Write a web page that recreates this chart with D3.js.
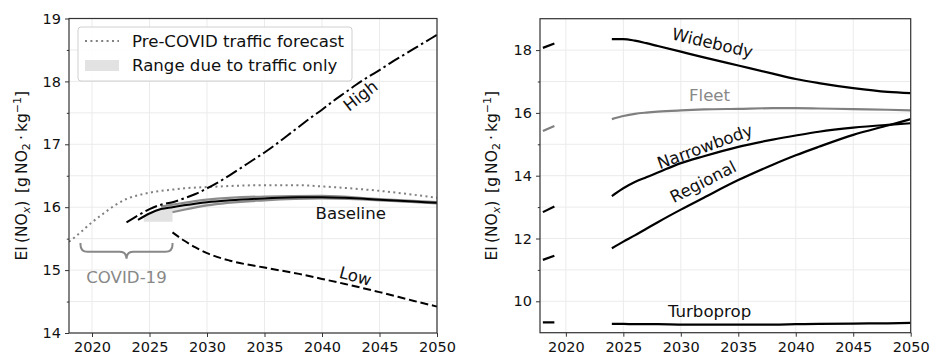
<!DOCTYPE html>
<html><head><meta charset="utf-8">
<script src="https://cdn.jsdelivr.net/npm/d3@7"></script>
<style>
body{margin:0;background:#fff;}
svg{display:block;font-family:"DejaVu Sans",sans-serif;}
</style></head>
<body><svg id="chart" width="934" height="359"></svg>
<script>
// ---------- Left panel data ----------
const preCovidYears  = [2018,2019,2020,2021,2022,2023,2024,2025,2026,2027,2028,2030,2035,2038,2040,2045,2050];
const preCovidValues = [15.45,15.6,15.76,15.9,16.03,16.13,16.19,16.23,16.26,16.28,16.3,16.32,16.35,16.35,16.33,16.26,16.15];
const highYears  = [2023,2024,2025,2026,2027,2028,2029,2030,2031,2032,2033,2034,2035,2036,2037,2038,2039,2040,2041,2042,2043,2044,2045,2046,2047,2048,2049,2050];
const highValues = [15.76,15.87,15.97,16.04,16.08,16.14,16.21,16.3,16.4,16.51,16.63,16.75,16.87,17.0,17.14,17.28,17.42,17.55,17.69,17.82,17.95,18.07,18.18,18.3,18.41,18.52,18.63,18.74];
const baselineYears  = [2024,2025,2026,2027,2028,2030,2032,2035,2038,2040,2042,2045,2048,2050];
const baselineValues = [15.8,15.9,15.97,16.0,16.03,16.08,16.11,16.14,16.16,16.16,16.15,16.12,16.09,16.07];
const lowYears  = [2027,2028,2029,2030,2032,2035,2038,2040,2042,2045,2048,2050];
const lowValues = [15.6,15.47,15.36,15.27,15.15,15.04,14.94,14.86,14.78,14.65,14.51,14.42];
const rangeYears = [2024.5,2025,2026,2027,2027,2028,2030,2035,2040,2045,2050];
const rangeLow   = [15.77,15.77,15.77,15.77,15.92,15.96,16.03,16.11,16.14,16.11,16.06];
const rangeHigh  = [15.86,15.91,16.0,16.04,16.04,16.07,16.12,16.17,16.18,16.13,16.08];
const trafficUpperYears  = [2026,2027,2028,2030,2035,2040,2045,2050];
const trafficUpperValues = [16.01,16.04,16.07,16.12,16.17,16.18,16.13,16.08];
const trafficLowerYears  = [2027,2028,2030,2035,2040,2045,2050];
const trafficLowerValues = [15.92,15.96,16.03,16.11,16.14,16.11,16.06];
const leftYTicks = [14,15,16,17,18,19];
const leftYMinor = [14.5,15.5,16.5,17.5,18.5];
const xTicks = [2020,2025,2030,2035,2040,2045,2050];
const covidSpan = [2019, 2027];
const covidBraceLevels = [15.43, 15.29, 15.18];  // top of ends, bar, tip
const legendLabels = ["Pre-COVID traffic forecast", "Range due to traffic only"];

// ---------- Right panel data ----------
const typeNames = ["Widebody","Fleet","Narrowbody","Regional","Turboprop"];
const histYears = [2018, 2019];
const histWidebody   = [18.07, 18.21];
const histFleet      = [15.42, 15.58];
const histNarrowbody = [12.84, 13.02];
const histRegional   = [11.32, 11.45];
const histTurboprop  = [9.33, 9.33];
const forecastYears = [2024,2025,2026,2027,2028,2030,2032,2035,2038,2040,2042,2045,2048,2050];
const fcWidebody   = [18.35,18.35,18.3,18.22,18.13,17.95,17.77,17.51,17.25,17.08,16.95,16.79,16.67,16.63];
const fcFleet      = [15.8,15.9,15.97,16.01,16.04,16.08,16.11,16.13,16.15,16.15,16.14,16.12,16.1,16.08];
const fcNarrowbody = [13.35,13.6,13.8,13.95,14.1,14.4,14.62,14.92,15.15,15.28,15.4,15.53,15.62,15.67];
const fcRegional   = [11.69,11.9,12.1,12.31,12.52,12.92,13.3,13.86,14.35,14.65,14.92,15.3,15.6,15.8];
const fcTurboprop  = [9.28,9.28,9.27,9.27,9.27,9.26,9.26,9.26,9.26,9.27,9.28,9.29,9.3,9.31];
const rightYTicks = [10,12,14,16,18];
const rightYMinor = [9,11,13,15,17,19];

// ---------- Setup ----------
const svg = d3.select("#chart");
const FONT_TICK = 14.5, FONT_TXT = 16.6;
const axisCol = "#333", gridCol = "#ebebeb";

function zip(xs, ys){ return xs.map((x,i)=>[x, ys[i]]); }

function panel(opt){
  const g = svg.append("g");
  const x = d3.scaleLinear().domain(opt.xDomain).range([opt.left, opt.right]);
  const y = d3.scaleLinear().domain(opt.yDomain).range([opt.bottom, opt.top]);
  const gg = g.append("g");
  gg.selectAll(".gx").data(xTicks).join("line")
    .attr("x1",d=>x(d)).attr("x2",d=>x(d)).attr("y1",opt.top).attr("y2",opt.bottom)
    .attr("stroke",gridCol).attr("stroke-width",1);
  gg.selectAll(".gy").data(opt.yTicks.concat(opt.yMinor)).join("line")
    .attr("x1",opt.left).attr("x2",opt.right).attr("y1",d=>y(d)).attr("y2",d=>y(d))
    .attr("stroke",gridCol).attr("stroke-width",1);
  const clipId = "clip"+opt.id;
  svg.append("clipPath").attr("id",clipId).append("rect")
    .attr("x",opt.left).attr("y",opt.top).attr("width",opt.right-opt.left).attr("height",opt.bottom-opt.top);
  const plot = g.append("g").attr("clip-path",`url(#${clipId})`);
  return {g, x, y, plot, opt};
}

function drawAxes(p){
  const {g, x, y, opt} = p;
  const xa = g.append("g").attr("transform",`translate(0,${opt.bottom})`)
    .call(d3.axisBottom(x).tickValues(xTicks).tickFormat(d3.format("d")).tickSize(4).tickPadding(5));
  const ya = g.append("g").attr("transform",`translate(${opt.left},0)`)
    .call(d3.axisLeft(y).tickValues(opt.yTicks).tickFormat(d3.format("d")).tickSize(4).tickPadding(4));
  const ym = g.append("g").attr("transform",`translate(${opt.left},0)`)
    .call(d3.axisLeft(y).tickValues(opt.yMinor.filter(v=>v>opt.yDomain[0]&&v<opt.yDomain[1])).tickFormat("").tickSize(2.2));
  [xa,ya,ym].forEach(a=>{
    a.select(".domain").remove();
    a.selectAll("line").attr("stroke",axisCol).attr("stroke-width",1);
    a.selectAll("text").attr("fill","#111").attr("font-size",FONT_TICK).attr("font-family","DejaVu Sans");
  });
  g.append("rect").attr("x",opt.left).attr("y",opt.top)
    .attr("width",opt.right-opt.left).attr("height",opt.bottom-opt.top)
    .attr("fill","none").attr("stroke",axisCol).attr("stroke-width",1.2);
  const t = g.append("text").attr("font-size",15.5).attr("fill","#111")
    .attr("text-anchor","middle")
    .attr("transform",`translate(${opt.labelX},${(opt.top+opt.bottom)/2}) rotate(-90)`);
  t.append("tspan").text("EI\u2009(NO");
  t.append("tspan").attr("font-size",11).attr("font-style","italic").attr("dy",3).text("x");
  t.append("tspan").attr("dy",-3).text(")\u2002[g\u2009NO");
  t.append("tspan").attr("font-size",11).attr("dy",3).text("2");
  t.append("tspan").attr("dy",-3).text("\u2009\u00b7\u2009kg");
  t.append("tspan").attr("font-size",11).attr("dy",-6).text("\u22121");
  t.append("tspan").attr("dy",6).text("]");
}

function line(p, pts, attrs){
  const gen = d3.line().x(d=>p.x(d[0])).y(d=>p.y(d[1])).curve(d3.curveMonotoneX);
  const path = p.plot.append("path").datum(pts).attr("d",gen).attr("fill","none");
  Object.entries(attrs).forEach(([k,v])=>path.attr(k,v));
  return path;
}

function label(p, txt, year, val, rot, col){
  p.g.append("text").attr("font-size",FONT_TXT).attr("fill",col||"#111")
    .attr("text-anchor","middle").attr("dominant-baseline","central")
    .attr("transform",`translate(${p.x(year)},${p.y(val)}) rotate(${rot||0})`)
    .text(txt);
}

// ---------- Left panel ----------
const L = panel({id:"L", left:69, right:437, top:18.5, bottom:333,
  xDomain:[2018,2050], yDomain:[14,19], yTicks:leftYTicks, yMinor:leftYMinor, labelX:27});

const area = d3.area().x(d=>L.x(d[0])).y0(d=>L.y(d[1])).y1(d=>L.y(d[2]));
L.plot.append("path").datum(rangeYears.map((yr,i)=>[yr, rangeLow[i], rangeHigh[i]]))
  .attr("d",area).attr("fill","#e2e2e2");
line(L, zip(trafficUpperYears, trafficUpperValues), {stroke:"#8c8c8c","stroke-width":2.2});
line(L, zip(trafficLowerYears, trafficLowerValues), {stroke:"#8c8c8c","stroke-width":2.2});
line(L, zip(preCovidYears, preCovidValues), {stroke:"#808080","stroke-width":2,"stroke-dasharray":"2,3.4"});
line(L, zip(highYears, highValues), {stroke:"#000","stroke-width":2,"stroke-dasharray":"12.5,3.5,2.5,3.5"});
line(L, zip(baselineYears, baselineValues), {stroke:"#000","stroke-width":2});
line(L, zip(lowYears, lowValues), {stroke:"#000","stroke-width":2,"stroke-dasharray":"8,3.8"});

{
  const x0 = L.x(covidSpan[0]), x1 = L.x(covidSpan[1]), xm = (x0+x1)/2;
  const yt = L.y(covidBraceLevels[0]), yb = L.y(covidBraceLevels[1]), yp = L.y(covidBraceLevels[2]);
  const r = 7;
  const d = `M${x0},${yt} L${x0},${yb-r} Q${x0},${yb} ${x0+r},${yb} L${xm-r},${yb} Q${xm},${yb} ${xm},${yp}`
          + ` M${x1},${yt} L${x1},${yb-r} Q${x1},${yb} ${x1-r},${yb} L${xm+r},${yb} Q${xm},${yb} ${xm},${yp}`;
  L.g.append("path").attr("d",d).attr("fill","none").attr("stroke","#888").attr("stroke-width",2);
  L.g.append("text").attr("x",xm).attr("y",yp+24).attr("text-anchor","middle")
    .attr("font-size",FONT_TXT).attr("fill","#888").text("COVID-19");
}

label(L, "High", 2043.35, 17.77, -38);
label(L, "Baseline", 2042.5, 15.9, 0);
label(L, "Low", 2042.9, 14.9, 15);

{
  const lg = L.g.append("g");
  lg.append("rect").attr("x",78).attr("y",27).attr("width",274).attr("height",54).attr("rx",3)
    .attr("fill","#fff").attr("fill-opacity",0.85).attr("stroke","#d0d0d0").attr("stroke-width",1);
  lg.append("line").attr("x1",85).attr("x2",119).attr("y1",41).attr("y2",41)
    .attr("stroke","#808080").attr("stroke-width",2).attr("stroke-dasharray","2,3.4");
  lg.append("rect").attr("x",85).attr("y",60).attr("width",34).attr("height",11).attr("fill","#e2e2e2");
  lg.selectAll("text.leg").data(legendLabels).join("text").attr("class","leg")
    .attr("x",132).attr("y",(d,i)=>41+i*24.5).attr("dominant-baseline","central")
    .attr("font-size",FONT_TXT).attr("fill","#111").text(d=>d);
}
drawAxes(L);

// ---------- Right panel ----------
const R = panel({id:"R", left:540, right:910.7, top:18.7, bottom:332.7,
  xDomain:[2017.75,2050], yDomain:[9,19], yTicks:rightYTicks, yMinor:rightYMinor, labelX:497});
const histSeries = [histWidebody, histFleet, histNarrowbody, histRegional, histTurboprop];
const fcSeries = [fcWidebody, fcFleet, fcNarrowbody, fcRegional, fcTurboprop];
typeNames.forEach((name,i)=>{
  const col = name==="Fleet" ? "#808080" : "#000";
  line(R, zip(histYears, histSeries[i]), {stroke:col,"stroke-width":2.2});
  line(R, zip(forecastYears, fcSeries[i]), {stroke:col,"stroke-width":2.2});
});
label(R, "Widebody", 2032.75, 18.22, 13);
label(R, "Fleet", 2032.5, 16.54, 0, "#888");
label(R, "Narrowbody", 2032.1, 14.92, -20);
label(R, "Regional", 2031.95, 13.8, -27);
label(R, "Turboprop", 2032.5, 9.66, 0);
drawAxes(R);
</script></body></html>
